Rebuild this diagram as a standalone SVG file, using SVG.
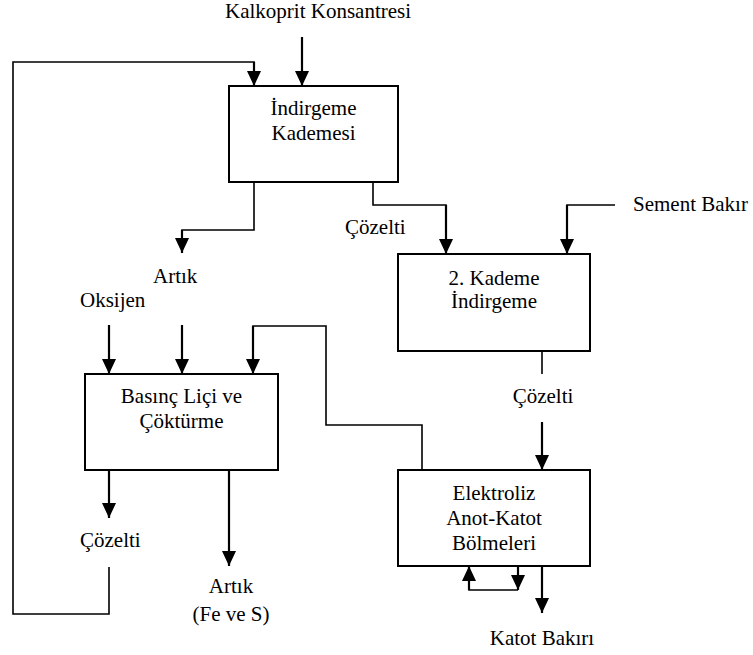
<svg xmlns="http://www.w3.org/2000/svg" width="753" height="655" viewBox="0 0 753 655">
  <style>
    .box { fill: #fff; stroke: #000; stroke-width: 2; }
    .ln { fill: none; stroke: #000; stroke-width: 1.6; }
    .ar { fill: none; stroke: #000; stroke-width: 2.2; marker-end: url(#head); }
    text { font-family: "Liberation Serif", "Times New Roman", serif; font-size: 21px; fill: #000; }
    .c { text-anchor: middle; }
  </style>
  <defs>
    <marker id="head" markerUnits="userSpaceOnUse" markerWidth="16" markerHeight="18" viewBox="0 0 16 18" refX="15" refY="8" orient="auto">
      <path d="M0,1 L15,8 L0,15 Z" fill="#000"/>
    </marker>
  </defs>

  <rect width="753" height="655" fill="#fff"/>

  <!-- connectors -->
  <g id="connectors">
    <!-- feed into reduction stage -->
    <line class="ar" x1="302" y1="37" x2="302" y2="86"/>
    <!-- recycled solution back to reduction stage -->
    <polyline class="ln" points="109,567 109,614 13,614 13,62 254,62 254,70"/>
    <line class="ar" x1="254" y1="62" x2="254" y2="86"/>
    <!-- reduction stage residue -->
    <polyline class="ln" points="254,182 254,230 182,230 182,238"/>
    <line class="ar" x1="182" y1="230" x2="182" y2="253"/>
    <!-- reduction stage solution to second stage -->
    <polyline class="ln" points="373,182 373,205 446,205 446,215"/>
    <line class="ar" x1="446" y1="205" x2="446" y2="254"/>
    <!-- cement copper -->
    <polyline class="ln" points="615,205 567,205 567,215"/>
    <line class="ar" x1="567" y1="205" x2="567" y2="254"/>
    <!-- second stage solution to electrolysis -->
    <line class="ln" x1="542" y1="351" x2="542" y2="374"/>
    <line class="ar" x1="542" y1="422" x2="542" y2="470"/>
    <!-- electrolysis return to pressure leach -->
    <polyline class="ln" points="422,470 422,425 326,425 326,326 253,326 253,336"/>
    <line class="ar" x1="253" y1="326" x2="253" y2="374"/>
    <!-- oxygen and residue feeds into pressure leach -->
    <line class="ar" x1="109" y1="325" x2="109" y2="374"/>
    <line class="ar" x1="182" y1="325" x2="182" y2="374"/>
    <!-- pressure leach outputs -->
    <line class="ar" x1="109" y1="470" x2="109" y2="518"/>
    <line class="ar" x1="229" y1="470" x2="229" y2="566"/>
    <!-- anode-cathode circulation loop -->
    <line class="ar" x1="518" y1="566" x2="518" y2="590"/>
    <polyline class="ln" points="518,590 469,590 469,580"/>
    <line class="ar" x1="469" y1="590" x2="469" y2="566"/>
    <!-- cathode copper -->
    <line class="ar" x1="542" y1="566" x2="542" y2="613"/>
  </g>

  <!-- nodes -->
  <g id="reduction-stage">
    <rect class="box" x="229" y="86" width="169" height="96"/>
    <text class="c" x="313.5" y="115">İndirgeme</text>
    <text class="c" x="313.5" y="140">Kademesi</text>
  </g>
  <g id="second-stage">
    <rect class="box" x="398" y="254" width="192" height="97"/>
    <text class="c" x="494" y="285">2. Kademe</text>
    <text class="c" x="494" y="308">İndirgeme</text>
  </g>
  <g id="pressure-leach">
    <rect class="box" x="85" y="374" width="193" height="96"/>
    <text class="c" x="181.5" y="403">Basınç Liçi ve</text>
    <text class="c" x="181.5" y="428">Çöktürme</text>
  </g>
  <g id="electrolysis">
    <rect class="box" x="398" y="470" width="192" height="96"/>
    <text class="c" x="494" y="500">Elektroliz</text>
    <text class="c" x="494" y="525">Anot-Katot</text>
    <text class="c" x="494" y="550">Bölmeleri</text>
  </g>

  <!-- stream labels -->
  <g id="labels">
    <text x="225" y="18">Kalkoprit Konsantresi</text>
    <text x="633" y="211">Sement Bakır</text>
    <text x="345" y="234">Çözelti</text>
    <text x="153" y="283">Artık</text>
    <text x="80" y="307">Oksijen</text>
    <text class="c" x="543" y="403">Çözelti</text>
    <text x="80" y="547">Çözelti</text>
    <text class="c" x="231" y="593">Artık</text>
    <text class="c" x="231" y="621">(Fe ve S)</text>
    <text class="c" x="542" y="645">Katot Bakırı</text>
  </g>
</svg>
